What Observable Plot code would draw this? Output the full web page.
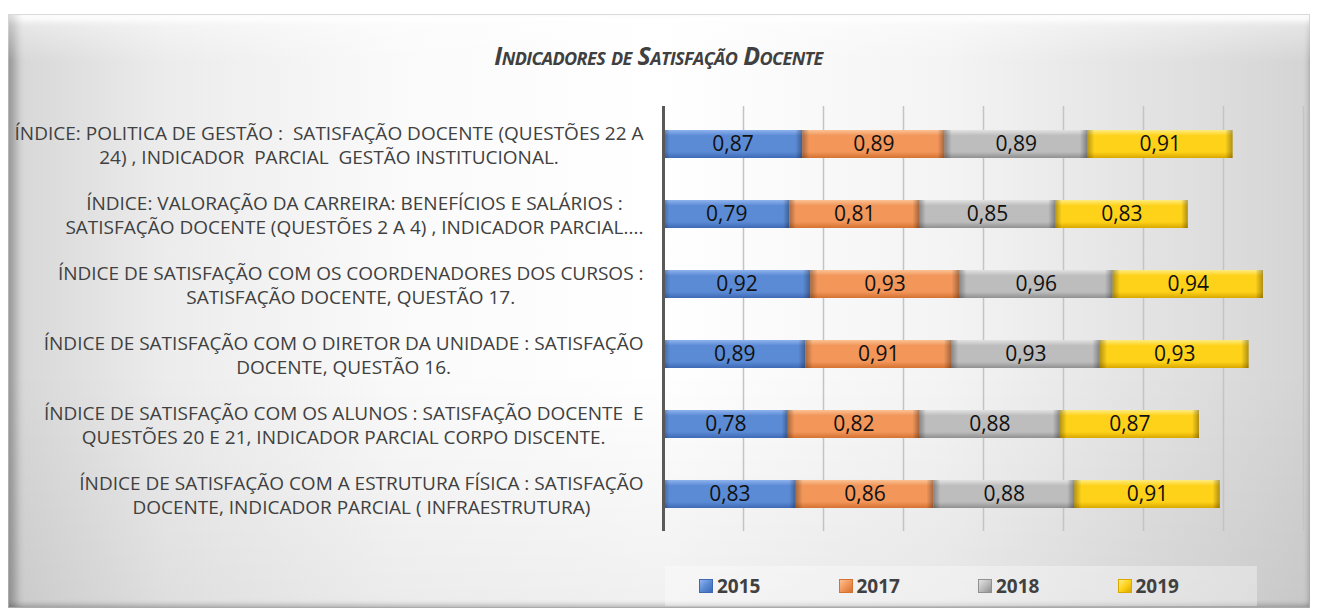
<!DOCTYPE html>
<html><head><meta charset="utf-8">
<script src="https://cdn.jsdelivr.net/npm/d3@7"></script>
<script src="https://cdn.jsdelivr.net/npm/@observablehq/plot@0.6"></script>
<style>
html,body{margin:0;padding:0;background:#fff;width:1317px;height:612px;overflow:hidden;font-family:"Open Sans",sans-serif;}
#frame{position:absolute;left:8px;top:14px;width:1302px;height:594px;box-sizing:border-box;border:1px solid #b5b5b5;
 background:linear-gradient(90deg,#d6d6d6 0%,#ececec 12%,#fafafa 30%,#ffffff 50%,#f4f4f4 72%,#dedede 92%,#d4d4d4 100%);
 box-shadow: inset 12px 0 8px -5px rgba(0,0,0,0.28), inset 0 12px 6px -6px rgba(255,255,255,1), inset 0 -6px 5px -3px rgba(0,0,0,0.18), inset -4px 0 4px -2px rgba(0,0,0,0.12);}
#shade{position:absolute;left:8px;top:14px;width:1302px;height:594px;background:linear-gradient(180deg,rgba(255,255,255,0.5) 0%,rgba(255,255,255,0) 8%,rgba(255,255,255,0) 60%,rgba(0,0,0,0.06) 100%);}
#title{position:absolute;left:0;width:1317px;top:38px;text-align:center;font-family:"Open Sans";font-style:italic;font-weight:bold;font-size:25px;font-variant:small-caps;color:#404040;letter-spacing:-0.6px;line-height:34px}
#chart{position:absolute;left:0;top:0}
#legend{position:absolute;left:665px;top:566px;width:592px;height:40px;background:rgba(255,255,255,0.35);box-sizing:border-box;padding-left:34px;display:flex;align-items:center}
.item{width:142px;display:flex;align-items:center;font-weight:bold;font-size:19px;color:#404040;line-height:24px}
.sw{width:14px;height:14px;margin-right:4px;box-sizing:border-box}
</style></head>
<body>
<div id="frame"></div><div id="shade"></div>
<div id="title">Indicadores de Satisfação Docente</div>
<div id="chart"></div>
<div id="legend"></div>
<script>
const categories = [
  "ÍNDICE: POLITICA DE GESTÃO :  SATISFAÇÃO DOCENTE (QUESTÕES 22 A\n24) , INDICADOR  PARCIAL  GESTÃO INSTITUCIONAL.",
  "ÍNDICE: VALORAÇÃO DA CARREIRA: BENEFÍCIOS E SALÁRIOS :\nSATISFAÇÃO DOCENTE (QUESTÕES 2 A 4) , INDICADOR PARCIAL....",
  "ÍNDICE DE SATISFAÇÃO COM OS COORDENADORES DOS CURSOS :\nSATISFAÇÃO DOCENTE, QUESTÃO 17.",
  "ÍNDICE DE SATISFAÇÃO COM O DIRETOR DA UNIDADE : SATISFAÇÃO\nDOCENTE, QUESTÃO 16.",
  "ÍNDICE DE SATISFAÇÃO COM OS ALUNOS : SATISFAÇÃO DOCENTE  E\nQUESTÕES 20 E 21, INDICADOR PARCIAL CORPO DISCENTE.",
  "ÍNDICE DE SATISFAÇÃO COM A ESTRUTURA FÍSICA : SATISFAÇÃO\nDOCENTE, INDICADOR PARCIAL ( INFRAESTRUTURA)"
];
const years = ["2015", "2017", "2018", "2019"];
const v2015 = [0.87, 0.79, 0.92, 0.89, 0.78, 0.83];
const v2017 = [0.89, 0.81, 0.93, 0.91, 0.82, 0.86];
const v2018 = [0.89, 0.85, 0.96, 0.93, 0.88, 0.88];
const v2019 = [0.91, 0.83, 0.94, 0.93, 0.87, 0.91];
const gridTicks = [0.5, 1, 1.5, 2, 2.5, 3, 3.5, 4];
const colors = ["#5b8bd5", "#f2965a", "#bdbdbd", "#ffd21a"];
const grads = {
  "#5b8bd5": ["#8fb2ee", "#5b8bd5", "#3f69b5"],
  "#f2965a": ["#fbc295", "#f2965a", "#d47232"],
  "#bdbdbd": ["#e2e2e2", "#bdbdbd", "#909090"],
  "#ffd21a": ["#ffec80", "#ffd21a", "#d9a800"]
};

const series = [v2015, v2017, v2018, v2019];
const data = [];
categories.forEach((c, i) => years.forEach((y, j) => data.push({cat: c, year: y, value: series[j][i]})));
const fmt = v => d3.format(".2f")(v).replace(".", ",");

const plot = Plot.plot({
  width: 1317, height: 612,
  marginLeft: 663, marginRight: 14, marginTop: 106, marginBottom: 81,
  style: {fontFamily: "Open Sans", background: "transparent", overflow: "visible"},
  x: {domain: [0, 4], axis: null},
  y: {domain: categories, paddingInner: 0.6, paddingOuter: 0.3, label: null},
  color: {domain: years, range: colors},
  marks: [
    Plot.gridX(gridTicks, {stroke: "#c4c4c4", strokeOpacity: 1, strokeWidth: 1.5}),
    Plot.barX(data, Plot.stackX({x: "value", y: "cat", z: "year", order: years, fill: "year"})),
    Plot.barX(data, Plot.stackX({x: "value", y: "cat", z: "year", order: years, fill: "black"})),
    Plot.text(data, Plot.stackX({x: "value", y: "cat", z: "year", order: years, text: d => fmt(d.value), fill: "#111", fontSize: 21})),
    Plot.ruleX([0], {stroke: "#595959", strokeWidth: 3}),
    Plot.axisY({tickSize: 0, tickPadding: 20, fontSize: 19, lineHeight: 1.23, fill: "#404040", label: null})
  ]
});
document.getElementById("chart").appendChild(plot);

// gradients for bevelled bars
const svg = d3.select(plot);
const defs = svg.insert("defs", ":first-child");
Object.entries(grads).forEach(([k, [a, b, c]], i) => {
  const g = defs.append("linearGradient").attr("id", "g" + i).attr("x1", 0).attr("x2", 0).attr("y1", 0).attr("y2", 1);
  g.append("stop").attr("offset", "0%").attr("stop-color", a);
  g.append("stop").attr("offset", "20%").attr("stop-color", b);
  g.append("stop").attr("offset", "78%").attr("stop-color", b);
  g.append("stop").attr("offset", "100%").attr("stop-color", c);
});
const hb = defs.append("linearGradient").attr("id", "hb").attr("x1", 0).attr("x2", 1).attr("y1", 0).attr("y2", 0);
[[0, 0.3], [0.05, 0], [0.95, 0], [1, 0.32]].forEach(([o, a]) =>
  hb.append("stop").attr("offset", o).attr("stop-color", "#000").attr("stop-opacity", a));

const barGroups = svg.selectAll('g[aria-label="bar"]').nodes();
d3.select(barGroups[0]).selectAll("rect").each(function() {
  const idx = colors.indexOf(this.getAttribute("fill"));
  if (idx >= 0) this.setAttribute("fill", `url(#g${idx})`);
});
d3.select(barGroups[1]).attr("fill", "url(#hb)").selectAll("rect").attr("fill", null);

// center the lines of each label, right-aligned block
svg.selectAll('g[aria-label="y-axis tick label"] text').each(function() {
  this.style.whiteSpace = "pre";
  const spans = Array.from(this.querySelectorAll("tspan"));
  const w = d3.max(spans, s => s.getComputedTextLength());
  this.setAttribute("text-anchor", "middle");
  spans.forEach(s => s.setAttribute("x", -w / 2));
});

// legend
const leg = d3.select("#legend");
years.forEach((y, i) => {
  const it = leg.append("div").attr("class", "item");
  const [a, b, c] = grads[colors[i]];
  it.append("div").attr("class", "sw").style("background", `linear-gradient(135deg, ${a}, ${b} 50%, ${c})`).style("border", `1px solid ${c}`);
  it.append("span").text(y);
});
</script>
</body></html>
